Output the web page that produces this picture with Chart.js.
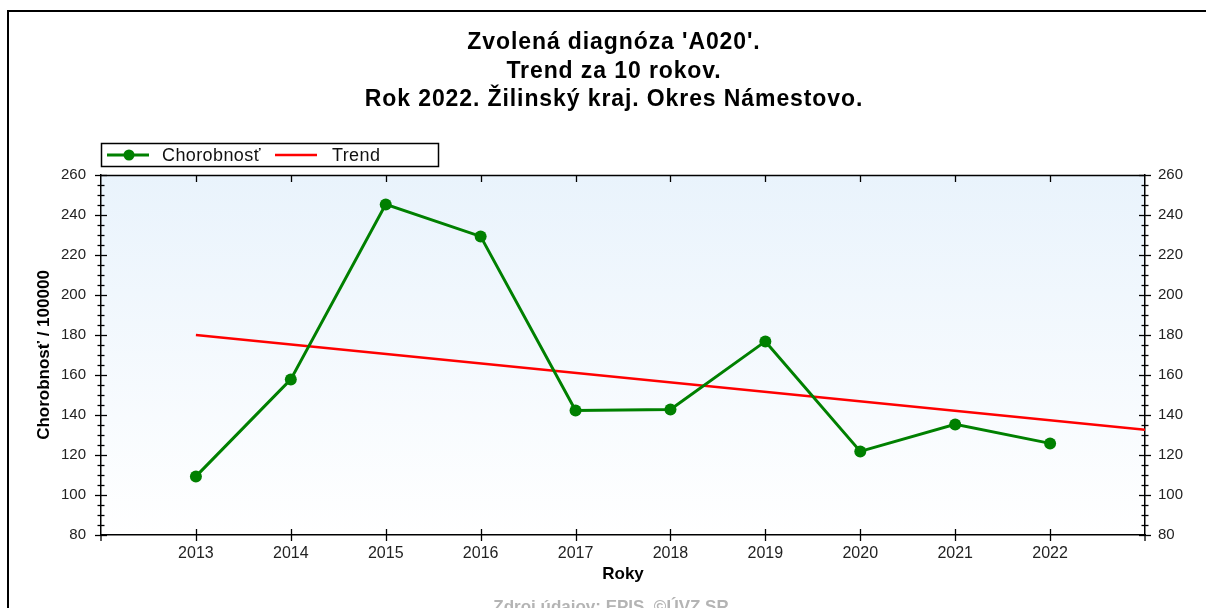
<!DOCTYPE html>
<html><head><meta charset="utf-8">
<script src="https://cdn.jsdelivr.net/npm/chart.js@4/dist/chart.umd.min.js"></script>
<style>html,body{margin:0;padding:0;background:#fff;overflow:hidden}</style>
</head><body>
<canvas id="c" width="1206" height="608"></canvas>
<script>
// ---- data ----
const titleLines = ["Zvolená diagnóza 'A020'.", "Trend za 10 rokov.", "Rok 2022. Žilinský kraj. Okres Námestovo."];
const years = [2013, 2014, 2015, 2016, 2017, 2018, 2019, 2020, 2021, 2022];
const chorobnost = [109.3, 157.8, 245.3, 229.3, 142.3, 142.8, 176.8, 121.8, 135.3, 125.8];
const trendYears = [2013, 2023];
const trendValues = [180, 132.6];
const seriesLabels = ["Chorobnosť", "Trend"];
const yMin = 80, yMax = 260, yStep = 20, yMinorStep = 5;
const xMin = 2012, xMax = 2023;
const xTitle = "Roky";
const yTitle = "Chorobnosť / 100000";
const sourceText = "Zdroj údajov: EPIS, ©ÚVZ SR";

const GREEN = '#008000', RED = '#ff0000';
const FONT = "'Liberation Sans', Arial, sans-serif";

function line(ctx, x1, y1, x2, y2) { ctx.beginPath(); ctx.moveTo(x1, y1); ctx.lineTo(x2, y2); ctx.stroke(); }

const decor = {
  id: 'decor',
  beforeDraw(chart) {
    const { ctx, chartArea: a } = chart;
    ctx.save();
    ctx.fillStyle = '#fff';
    ctx.fillRect(0, 0, chart.width, chart.height);
    const g = ctx.createLinearGradient(0, a.top, 0, a.bottom);
    g.addColorStop(0, '#e9f3fc');
    g.addColorStop(1, '#ffffff');
    ctx.fillStyle = g;
    ctx.fillRect(a.left, a.top, a.right - a.left, a.bottom - a.top);
    ctx.restore();
  },
  afterDraw(chart) {
    const { ctx, chartArea: a } = chart;
    const ys = chart.scales.y, xs = chart.scales.x;
    ctx.save();
    // outer frame
    ctx.fillStyle = '#000';
    ctx.fillRect(7, 10, 1206 - 7, 2);
    ctx.fillRect(7, 10, 2, 608 - 10);

    // axis ticks
    ctx.strokeStyle = '#000';
    ctx.lineWidth = 1.3;
    for (let v = yMin; v <= yMax; v += yMinorStep) {
      const py = Math.round(ys.getPixelForValue(v)) + 0.5;
      const len = ((v - yMin) % yStep === 0) ? 6 : 3.5;
      line(ctx, a.left - len, py, a.left + len, py);
      line(ctx, a.right - len, py, a.right + len, py);
    }
    // top border
    line(ctx, a.left, Math.round(a.top) + 0.5, a.right, Math.round(a.top) + 0.5);
    for (const yr of years) {
      const px = Math.round(xs.getPixelForValue(yr)) + 0.5;
      line(ctx, px, a.bottom - 6, px, a.bottom + 6);
      line(ctx, px, a.top, px, a.top + 7);
    }
    line(ctx, a.left, a.bottom, a.left, a.bottom + 6);
    line(ctx, a.right, a.bottom, a.right, a.bottom + 6);

    // title
    ctx.fillStyle = '#000';
    ctx.font = "bold 23px " + FONT;
    ctx.letterSpacing = '0.9px';
    ctx.textAlign = 'center';
    ctx.textBaseline = 'alphabetic';
    titleLines.forEach((t, i) => ctx.fillText(t, 614, 49 + i * 28.5));

    // legend
    ctx.letterSpacing = '0.4px';
    ctx.lineWidth = 1.5;
    ctx.strokeStyle = '#000';
    ctx.strokeRect(101.5, 143.5, 337, 23);
    ctx.strokeStyle = GREEN; ctx.lineWidth = 3;
    line(ctx, 107, 155, 149, 155);
    ctx.fillStyle = GREEN;
    ctx.beginPath(); ctx.arc(129, 155, 5.5, 0, Math.PI * 2); ctx.fill();
    ctx.strokeStyle = RED; ctx.lineWidth = 2.5;
    line(ctx, 275, 155, 317, 155);
    ctx.fillStyle = '#111';
    ctx.font = "18px " + FONT;
    ctx.textAlign = 'left';
    ctx.fillText(seriesLabels[0], 162, 161);
    ctx.fillText(seriesLabels[1], 332, 161);

    // source
    ctx.letterSpacing = '0px';
    ctx.fillStyle = '#b4b4b4';
    ctx.font = "bold 17px " + FONT;
    ctx.textAlign = 'center';
    ctx.fillText(sourceText, 611, 612);
    ctx.restore();
  }
};

new Chart(document.getElementById('c'), {
  type: 'line',
  data: {
    datasets: [
      {
        label: seriesLabels[0],
        data: years.map((y, i) => ({ x: y, y: chorobnost[i] })),
        borderColor: GREEN, backgroundColor: GREEN,
        borderWidth: 3, pointRadius: 6, pointBorderWidth: 0,
        pointBackgroundColor: GREEN, tension: 0, yAxisID: 'y'
      },
      {
        label: seriesLabels[1],
        data: trendYears.map((y, i) => ({ x: y, y: trendValues[i] })),
        borderColor: RED, backgroundColor: RED,
        borderWidth: 2.5, pointRadius: 0, tension: 0, yAxisID: 'y'
      }
    ]
  },
  options: {
    responsive: false,
    animation: false,
    devicePixelRatio: 1,
    layout: { padding: { top: 175, left: 0, right: 0, bottom: 0 } },
    plugins: { legend: { display: false }, title: { display: false }, tooltip: { enabled: false } },
    scales: {
      x: {
        type: 'linear', min: xMin, max: xMax,
        afterFit: s => { s.height = 73; },
        grid: { display: true, drawOnChartArea: false, drawTicks: false, color: 'rgba(0,0,0,0)' },
        border: { display: true, color: '#000', width: 1.5 },
        ticks: {
          stepSize: 1, autoSkip: false, maxRotation: 0, padding: 9,
          color: '#222', font: { family: FONT, size: 16 },
          callback: v => (v >= years[0] && v <= years[years.length - 1]) ? String(v) : ''
        },
        title: { display: true, text: xTitle, color: '#000', font: { family: FONT, size: 17, weight: 'bold' }, padding: { top: 0, bottom: 23 } }
      },
      y: {
        position: 'left', min: yMin, max: yMax,
        afterFit: s => { s.width = 101; },
        grid: { display: true, drawOnChartArea: false, drawTicks: false, color: 'rgba(0,0,0,0)' },
        border: { display: true, color: '#000', width: 1.5 },
        ticks: { stepSize: yStep, padding: 15, color: '#222', font: { family: FONT, size: 15 } },
        title: { display: true, text: yTitle, color: '#000', font: { family: FONT, size: 17, weight: 'bold' }, padding: { top: 34, bottom: 0 } }
      },
      y2: {
        position: 'right', min: yMin, max: yMax,
        afterFit: s => { s.width = 61; },
        grid: { display: true, drawOnChartArea: false, drawTicks: false, color: 'rgba(0,0,0,0)' },
        border: { display: true, color: '#000', width: 1.5 },
        ticks: { stepSize: yStep, padding: 13, color: '#222', font: { family: FONT, size: 15 } }
      }
    }
  },
  plugins: [decor]
});
</script>
</body></html>
